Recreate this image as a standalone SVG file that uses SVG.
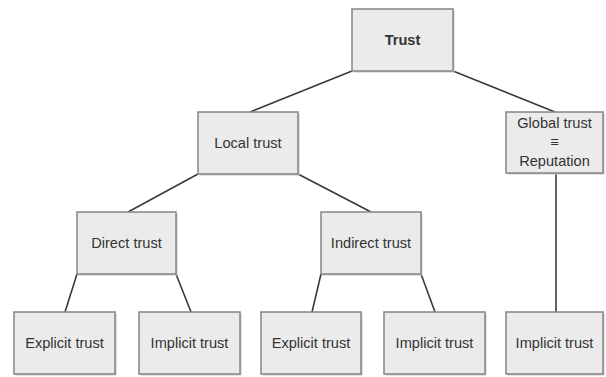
<svg xmlns="http://www.w3.org/2000/svg" width="606" height="377" viewBox="0 0 606 377">
<style>
.box{fill:#ebebeb;stroke:#858585;stroke-width:1.5}
.sh{fill:#c8c8c8}
.t{font-family:"Liberation Sans",Arial,sans-serif;font-size:14.6px;fill:#333;text-anchor:middle}
.b{font-weight:bold}
.c line{stroke:#3a3a3a;stroke-width:1.6}
</style>
<rect width="606" height="377" fill="#fff"/>
<g class="c" id="connectors">
<line x1="352" y1="71" x2="250" y2="112"/>
<line x1="453" y1="71" x2="555" y2="112"/>
<line x1="198" y1="174" x2="128" y2="212"/>
<line x1="298" y1="174" x2="371" y2="212"/>
<line x1="77" y1="274" x2="65" y2="312"/>
<line x1="176" y1="274" x2="191" y2="312"/>
<line x1="321" y1="274" x2="312" y2="312"/>
<line x1="421" y1="274" x2="435" y2="312"/>
<line x1="556" y1="174" x2="556" y2="312"/>
</g>
<g id="trust"><rect class="sh" x="353.5" y="10.5" width="101" height="62"/><rect class="box" x="352" y="9" width="101" height="62"/><text class="t b" x="402.5" y="45">Trust</text></g>
<g id="local"><rect class="sh" x="199.5" y="113.5" width="100" height="62"/><rect class="box" x="198" y="112" width="100" height="62"/><text class="t" x="248" y="148">Local trust</text></g>
<g id="global"><rect class="sh" x="507.5" y="113.5" width="97" height="61"/><rect class="box" x="506" y="112" width="97" height="61"/><text class="t" x="554.5" y="128">Global trust</text><text class="t" x="554.5" y="147">≡</text><text class="t" x="554.5" y="166">Reputation</text></g>
<g id="direct"><rect class="sh" x="78.5" y="213.5" width="99" height="62"/><rect class="box" x="77" y="212" width="99" height="62"/><text class="t" x="126.5" y="248">Direct trust</text></g>
<g id="indirect"><rect class="sh" x="322.5" y="213.5" width="100" height="62"/><rect class="box" x="321" y="212" width="100" height="62"/><text class="t" x="371" y="248">Indirect trust</text></g>
<g id="explicit1"><rect class="sh" x="15.5" y="313.5" width="101" height="62"/><rect class="box" x="14" y="312" width="101" height="62"/><text class="t" x="64.5" y="348">Explicit trust</text></g>
<g id="implicit1"><rect class="sh" x="140.5" y="313.5" width="101" height="62"/><rect class="box" x="139" y="312" width="101" height="62"/><text class="t" x="189.5" y="348">Implicit trust</text></g>
<g id="explicit2"><rect class="sh" x="262.5" y="313.5" width="100" height="62"/><rect class="box" x="261" y="312" width="100" height="62"/><text class="t" x="311" y="348">Explicit trust</text></g>
<g id="implicit2"><rect class="sh" x="385.5" y="313.5" width="101" height="62"/><rect class="box" x="384" y="312" width="101" height="62"/><text class="t" x="434.5" y="348">Implicit trust</text></g>
<g id="implicit3"><rect class="sh" x="507.5" y="313.5" width="97" height="62"/><rect class="box" x="506" y="312" width="97" height="62"/><text class="t" x="554.5" y="348">Implicit trust</text></g>
</svg>
